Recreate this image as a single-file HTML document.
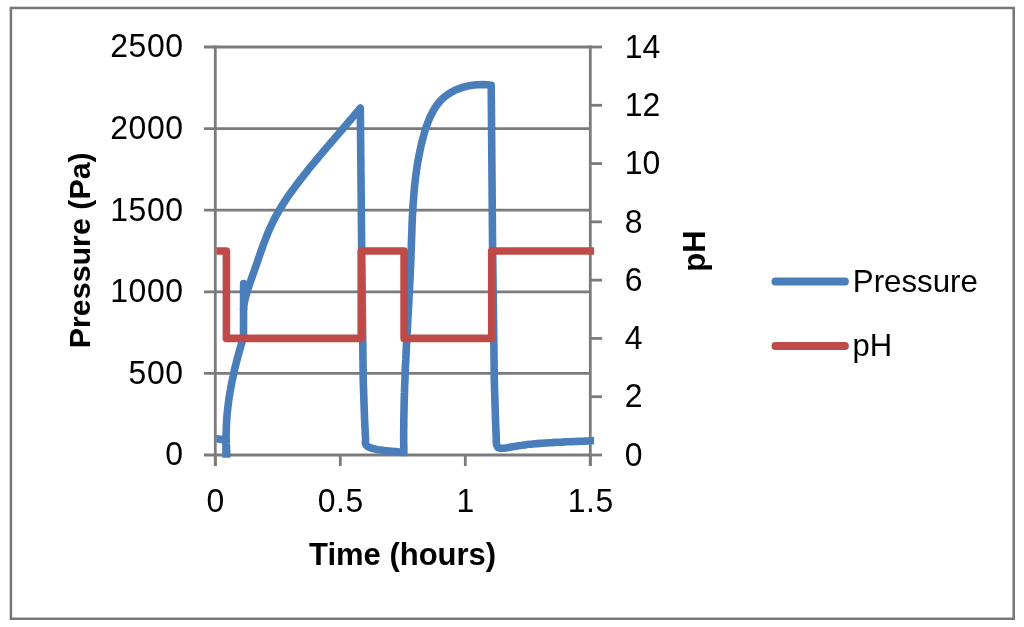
<!DOCTYPE html>
<html><head><meta charset="utf-8"><style>
html,body{margin:0;padding:0;background:#fff;}
body{width:1024px;height:627px;overflow:hidden;font-family:"Liberation Sans",sans-serif;}
svg{display:block;will-change:transform;}
</style></head><body>
<svg width="1024" height="627" viewBox="0 0 1024 627">
<rect width="1024" height="627" fill="#fff"/>
<rect x="10.9" y="7.95" width="1002.8" height="610.8" fill="none" stroke="#777777" stroke-width="2.5"/>
<line x1="204" y1="455.00" x2="590.30" y2="455.00" stroke="#7b7b7b" stroke-width="2.8"/>
<line x1="204" y1="373.40" x2="590.30" y2="373.40" stroke="#7b7b7b" stroke-width="2.8"/>
<line x1="204" y1="291.80" x2="590.30" y2="291.80" stroke="#7b7b7b" stroke-width="2.8"/>
<line x1="204" y1="210.20" x2="590.30" y2="210.20" stroke="#7b7b7b" stroke-width="2.8"/>
<line x1="204" y1="128.60" x2="590.30" y2="128.60" stroke="#7b7b7b" stroke-width="2.8"/>
<line x1="204" y1="47.00" x2="590.30" y2="47.00" stroke="#7b7b7b" stroke-width="2.8"/>
<line x1="590.3" y1="455.00" x2="602" y2="455.00" stroke="#7b7b7b" stroke-width="2.8"/>
<line x1="590.3" y1="396.71" x2="602" y2="396.71" stroke="#7b7b7b" stroke-width="2.8"/>
<line x1="590.3" y1="338.43" x2="602" y2="338.43" stroke="#7b7b7b" stroke-width="2.8"/>
<line x1="590.3" y1="280.14" x2="602" y2="280.14" stroke="#7b7b7b" stroke-width="2.8"/>
<line x1="590.3" y1="221.86" x2="602" y2="221.86" stroke="#7b7b7b" stroke-width="2.8"/>
<line x1="590.3" y1="163.57" x2="602" y2="163.57" stroke="#7b7b7b" stroke-width="2.8"/>
<line x1="590.3" y1="105.29" x2="602" y2="105.29" stroke="#7b7b7b" stroke-width="2.8"/>
<line x1="590.3" y1="47.00" x2="602" y2="47.00" stroke="#7b7b7b" stroke-width="2.8"/>
<line x1="215.30" y1="455.0" x2="215.30" y2="466" stroke="#7b7b7b" stroke-width="2.8"/>
<line x1="340.30" y1="455.0" x2="340.30" y2="466" stroke="#7b7b7b" stroke-width="2.8"/>
<line x1="465.30" y1="455.0" x2="465.30" y2="466" stroke="#7b7b7b" stroke-width="2.8"/>
<line x1="590.30" y1="455.0" x2="590.30" y2="466" stroke="#7b7b7b" stroke-width="2.8"/>
<line x1="215.3" y1="45.6" x2="215.3" y2="466" stroke="#7b7b7b" stroke-width="2.8"/>
<line x1="590.3" y1="45.6" x2="590.3" y2="466" stroke="#7b7b7b" stroke-width="2.8"/>
<defs><clipPath id="pc"><rect x="216.4" y="40" width="377.7" height="417.7"/></clipPath></defs>
<g clip-path="url(#pc)">
<polyline points="215.3,438.5 223.0,439.8 225.9,441.0 226.0,462.0 226.6,462.0 226.7,452.0 226.5,448.0 226.3,443.9 226.2,439.9 226.1,435.8 226.2,431.8 226.3,427.8 226.5,423.8 226.7,419.7 227.0,415.7 227.4,411.7 227.8,407.7 228.3,403.7 228.8,399.7 229.4,395.8 230.1,391.8 230.8,387.8 231.5,383.9 232.3,379.9 233.2,376.0 234.0,372.0 234.9,368.1 235.9,364.2 236.9,360.3 237.9,356.4 239.0,352.5 240.1,348.6 241.2,344.7 242.3,340.9 243.5,337.0 243.6,283.6 243.8,309.0 243.4,308.9 243.8,305.9 244.3,303.0 244.9,300.1 245.6,297.2 246.3,294.3 247.2,291.5 248.0,288.7 249.0,285.8 249.9,283.0 250.9,280.2 251.9,277.4 252.9,274.6 253.9,271.8 254.9,269.0 255.9,266.1 256.9,263.3 257.9,260.4 258.8,257.6 259.8,254.7 260.8,251.9 261.8,249.1 262.8,246.2 263.8,243.4 264.9,240.6 266.0,237.8 267.1,235.0 268.2,232.2 269.4,229.5 270.6,226.8 271.9,224.1 273.2,221.4 274.5,218.8 275.9,216.1 277.4,213.5 278.8,211.0 280.3,208.4 281.9,205.9 283.5,203.4 285.1,200.9 286.7,198.4 288.4,195.9 290.1,193.5 291.9,191.1 293.6,188.7 295.4,186.3 297.2,183.9 299.0,181.5 300.8,179.1 302.7,176.8 304.5,174.4 306.4,172.1 308.2,169.7 310.1,167.4 312.0,165.1 313.9,162.8 315.8,160.5 317.8,158.2 319.7,155.9 321.6,153.6 323.5,151.3 325.5,149.0 327.4,146.7 329.4,144.5 331.3,142.2 333.3,139.9 335.2,137.6 337.2,135.4 339.1,133.1 341.1,130.8 343.0,128.6 344.9,126.3 346.9,124.0 348.8,121.8 350.7,119.5 352.7,117.2 354.6,114.9 356.5,112.6 358.4,110.3 360.3,108.1 361.7,250.0 363.2,380.0 364.6,420.0 365.6,440.0 365.3,441.9 365.5,443.4 366.0,444.8 366.9,445.9 368.0,446.7 369.3,447.4 370.8,447.9 372.2,448.3 373.6,448.7 375.1,449.1 376.6,449.4 378.0,449.7 379.5,449.9 381.0,450.1 382.5,450.3 384.0,450.5 385.5,450.7 387.0,450.8 388.5,451.0 390.0,451.1 391.5,451.2 393.0,451.4 394.6,451.5 396.1,451.6 397.6,451.8 399.0,451.9 400.5,452.1 402.0,452.3 403.5,452.5 403.9,452.5 403.8,447.9 403.7,443.2 403.7,438.6 403.7,434.0 403.7,429.4 403.8,424.7 403.8,420.1 403.9,415.5 404.0,410.9 404.1,406.2 404.2,401.6 404.3,397.0 404.5,392.4 404.6,387.7 404.8,383.1 405.0,378.5 405.1,373.9 405.3,369.2 405.5,364.6 405.8,360.0 406.0,355.3 406.2,350.7 406.4,346.1 406.7,341.5 406.9,336.8 407.2,332.2 407.4,327.6 407.7,323.0 407.9,318.3 408.2,313.7 408.4,309.1 408.7,304.5 408.9,299.8 409.1,295.2 409.4,290.6 409.6,286.0 409.8,281.3 410.1,276.7 410.3,272.1 410.5,267.5 410.7,262.9 410.9,258.2 411.0,253.6 411.2,249.0 411.4,244.4 411.5,239.8 411.7,235.1 411.9,230.5 412.0,225.9 412.2,221.3 412.4,216.7 412.7,212.1 412.9,207.5 413.2,202.9 413.6,198.3 413.9,193.7 414.3,189.1 414.8,184.5 415.3,179.9 415.8,175.3 416.5,170.7 417.1,166.1 417.9,161.5 418.7,156.9 419.6,152.4 420.6,147.8 421.6,143.2 422.8,138.7 424.0,134.1 425.3,129.6 426.8,125.1 428.5,120.8 430.3,116.5 432.4,112.4 434.6,108.5 437.1,104.9 439.9,101.4 443.0,98.2 446.5,95.4 450.2,92.8 454.3,90.6 458.6,88.8 463.1,87.2 467.7,86.1 472.4,85.2 477.2,84.7 481.9,84.6 486.6,84.8 491.2,85.3 492.6,248.0 494.3,380.0 495.5,420.0 496.3,440.0 496.2,442.4 496.7,445.1 497.9,447.4 500.0,448.3 502.4,448.3 504.9,448.1 507.3,447.7 509.8,447.2 512.3,446.8 514.8,446.4 517.3,446.0 519.8,445.6 522.3,445.3 524.8,444.9 527.3,444.6 529.8,444.3 532.3,444.1 534.8,443.8 537.3,443.6 539.8,443.4 542.3,443.2 544.8,443.0 547.3,442.9 549.8,442.7 552.3,442.6 554.8,442.4 557.3,442.3 559.8,442.2 562.4,442.1 564.9,441.9 567.4,441.8 569.9,441.7 572.4,441.6 574.9,441.5 577.4,441.4 579.9,441.3 582.4,441.2 584.9,441.1 587.4,441.0 590.0,440.8 592.5,440.7 595.0,440.6 597.5,440.4 600.0,440.3" fill="none" stroke="#4A7EBB" stroke-width="7.6" stroke-linejoin="round" stroke-linecap="butt"/>
<polyline points="215.3,251.0 226.4,251.0 226.4,338.4 361.2,338.4 361.2,251.0 404.1,251.0 404.1,338.4 491.7,338.4 491.7,251.0 600.0,251.0" fill="none" stroke="#BE4B48" stroke-width="7.6" stroke-linejoin="round" stroke-linecap="butt"/>
</g>
<text transform="translate(183.60,465.40) scale(0.94,1)" text-anchor="end" font-size="34" letter-spacing="0.6" font-family="Liberation Sans, sans-serif">0</text>
<text transform="translate(183.60,383.80) scale(0.94,1)" text-anchor="end" font-size="34" letter-spacing="0.6" font-family="Liberation Sans, sans-serif">500</text>
<text transform="translate(183.60,302.20) scale(0.94,1)" text-anchor="end" font-size="34" letter-spacing="0.6" font-family="Liberation Sans, sans-serif">1000</text>
<text transform="translate(183.60,220.60) scale(0.94,1)" text-anchor="end" font-size="34" letter-spacing="0.6" font-family="Liberation Sans, sans-serif">1500</text>
<text transform="translate(183.60,139.00) scale(0.94,1)" text-anchor="end" font-size="34" letter-spacing="0.6" font-family="Liberation Sans, sans-serif">2000</text>
<text transform="translate(183.60,57.40) scale(0.94,1)" text-anchor="end" font-size="34" letter-spacing="0.6" font-family="Liberation Sans, sans-serif">2500</text>
<text transform="translate(624.80,465.70) scale(0.94,1)" text-anchor="start" font-size="34" letter-spacing="-0.2" font-family="Liberation Sans, sans-serif">0</text>
<text transform="translate(624.80,407.41) scale(0.94,1)" text-anchor="start" font-size="34" letter-spacing="-0.2" font-family="Liberation Sans, sans-serif">2</text>
<text transform="translate(624.80,349.13) scale(0.94,1)" text-anchor="start" font-size="34" letter-spacing="-0.2" font-family="Liberation Sans, sans-serif">4</text>
<text transform="translate(624.80,290.84) scale(0.94,1)" text-anchor="start" font-size="34" letter-spacing="-0.2" font-family="Liberation Sans, sans-serif">6</text>
<text transform="translate(624.80,232.56) scale(0.94,1)" text-anchor="start" font-size="34" letter-spacing="-0.2" font-family="Liberation Sans, sans-serif">8</text>
<text transform="translate(624.80,174.27) scale(0.94,1)" text-anchor="start" font-size="34" letter-spacing="-0.2" font-family="Liberation Sans, sans-serif">10</text>
<text transform="translate(624.80,115.99) scale(0.94,1)" text-anchor="start" font-size="34" letter-spacing="-0.2" font-family="Liberation Sans, sans-serif">12</text>
<text transform="translate(624.80,57.70) scale(0.94,1)" text-anchor="start" font-size="34" letter-spacing="-0.2" font-family="Liberation Sans, sans-serif">14</text>
<text transform="translate(215.70,512.00) scale(0.94,1)" text-anchor="middle" font-size="34" letter-spacing="0.6" font-family="Liberation Sans, sans-serif">0</text>
<text transform="translate(340.70,512.00) scale(0.94,1)" text-anchor="middle" font-size="34" letter-spacing="0.6" font-family="Liberation Sans, sans-serif">0.5</text>
<text transform="translate(465.70,512.00) scale(0.94,1)" text-anchor="middle" font-size="34" letter-spacing="0.6" font-family="Liberation Sans, sans-serif">1</text>
<text transform="translate(590.70,512.00) scale(0.94,1)" text-anchor="middle" font-size="34" letter-spacing="0.6" font-family="Liberation Sans, sans-serif">1.5</text>
<text x="402.6" y="565" text-anchor="middle" font-size="31" font-weight="bold" font-family="Liberation Sans, sans-serif">Time (hours)</text>
<text transform="translate(90.3,250.3) rotate(-90)" text-anchor="middle" font-size="30.4" font-weight="bold" font-family="Liberation Sans, sans-serif">Pressure (Pa)</text>
<text transform="translate(705,251) rotate(-90)" text-anchor="middle" font-size="31" font-weight="bold" font-family="Liberation Sans, sans-serif">pH</text>
<line x1="775.4" y1="281.5" x2="845" y2="281.5" stroke="#4A7EBB" stroke-width="7.8" stroke-linecap="round"/>
<line x1="775.4" y1="346" x2="845" y2="346" stroke="#BE4B48" stroke-width="7.8" stroke-linecap="round"/>
<text x="852.8" y="291.6" font-size="30.5" textLength="125" lengthAdjust="spacingAndGlyphs" font-family="Liberation Sans, sans-serif">Pressure</text>
<text x="852.6" y="355.6" font-size="31" font-family="Liberation Sans, sans-serif">pH</text>
</svg>
</body></html>
